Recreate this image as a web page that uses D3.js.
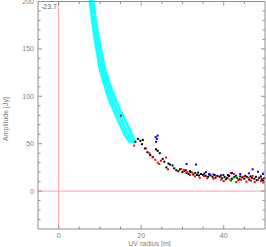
<!DOCTYPE html>
<html>
<head>
<meta charset="utf-8">
<script src="https://cdn.jsdelivr.net/npm/d3@7"></script>
<style>
    body { margin: 0; background: #fff; }
    svg { display: block; font-family: "Liberation Sans", Arial, sans-serif; }
    .tickLabel { font-size: 7px; fill: #808080; }
    .axisTitle { font-size: 7px; fill: #808080; }
    .frame line, .tick { stroke: #909090; stroke-width: 1; }
</style>
</head>
<body>
<div class="chart"></div>
<script>
// ----- DATA -------------------------------------------------------
// cyan band: amplitude levels and the uv radii read at each level
const cyanLevels = [200, 197.5, 195, 192.5, 190, 187.5, 185, 182.5, 180, 177.5, 175, 172.5, 170, 167.5,
    165, 162.5, 160, 157.5, 155, 152.5, 150, 147.5, 145, 142.5, 140, 137.5, 135, 132.5, 130, 127.5,
    125, 122.5, 120, 117.5, 115, 112.5, 110, 107.5, 105, 102.5, 100, 97.5, 95, 92.5, 90, 87.5,
    85, 82.5, 80, 77.5, 75, 72.5, 70, 67.5, 65, 62.5, 60, 57.5, 55, 52.5];
const cyanU = [
    [7.65, 7.95, 8.25], [7.7, 8.05, 8.4], [7.8, 8.1, 8.45], [7.85, 8.2, 8.55], [7.9, 8.3, 8.65],
    [8.0, 8.35, 8.7], [8.05, 8.4, 8.8], [8.1, 8.5, 8.85], [8.2, 8.55, 8.95], [8.25, 8.65, 9.0],
    [8.35, 8.7, 9.1], [8.4, 8.8, 9.2], [8.5, 8.9, 9.3], [8.55, 8.95, 9.4], [8.65, 9.05, 9.5],
    [8.7, 9.15, 9.6], [8.8, 9.25, 9.7], [8.9, 9.35, 9.8], [9.0, 9.45, 9.95], [9.1, 9.55, 10.05],
    [9.2, 9.7, 10.2], [9.3, 9.8, 10.3], [9.4, 9.9, 10.4], [9.5, 10.0, 10.5], [9.6, 10.1, 10.6],
    [9.7, 10.2, 10.75], [9.8, 10.35, 10.85], [9.9, 10.45, 11.0], [10.0, 10.55, 11.1], [10.15, 10.7, 11.25],
    [10.3, 10.85, 11.4], [10.45, 11.0, 11.6], [10.6, 11.2, 11.8], [10.75, 11.35, 12.0], [10.9, 11.55, 12.2],
    [11.1, 11.7, 12.4], [11.3, 11.95, 12.6], [11.45, 12.1, 12.8], [11.6, 12.3, 13.0], [11.8, 12.5, 13.25],
    [12.0, 12.75, 13.5], [12.2, 12.95, 13.7], [12.4, 13.15, 13.9], [12.65, 13.4, 14.15], [12.9, 13.65, 14.4],
    [13.15, 13.9, 14.65], [13.4, 14.15, 14.9], [13.65, 14.45, 15.2], [13.9, 14.7, 15.5], [14.15, 14.95, 15.8],
    [14.4, 15.25, 16.1], [14.65, 15.5, 16.35], [14.9, 15.75, 16.6], [15.2, 16.05, 16.9], [15.5, 16.35, 17.2],
    [15.75, 16.6, 17.45], [16.0, 16.85, 17.7], [16.35, 17.15, 17.95], [16.7, 17.45, 18.2], [17.2, 17.8, 18.35]
];

// [uv radius, amplitude]
const blackPts = [[18.6,52],[19.2,55],[19.8,53],[20.4,54],[20.2,49.5],[20.9,45],[21.5,41],[22.2,38],[22.8,36],
    [23.6,44],[24.0,42.5],[24.5,40],[25.2,34],[25.6,31],[26.1,25],[26.6,29],[27.0,28],[27.6,27],[28.0,24],
    [28.5,22],[29.0,21],[29.4,23],[30.0,20],[30.5,21.5],[30.8,22],[31.0,19],[31.5,18],[31.8,21],[32.0,20],
    [32.6,17.5],[33.1,19],[33.5,17],[33.8,19.5],[34.0,16.5],[34.5,18],[35.0,17],[35.3,18.5],[35.6,16],
    [36.2,15],[36.5,17.5],[36.8,16.5],[37.3,15],[37.8,17],[38.0,14],[38.5,16],[39.0,15],[39.3,16.5],
    [39.6,13.5],[40.2,15],[40.5,12.5],[40.8,14],[41.0,17],[41.3,16],[42.0,13],[42.6,15],[43.0,16],[43.2,14],
    [43.8,12.5],[44.0,15.5],[44.5,14.5],[45.0,13],[45.2,16],[45.6,15],[46.2,12],[46.5,15.5],[46.8,14],
    [47.4,13],[47.8,15],[48.0,11.5],[48.6,14],[49.0,15.5],[49.2,12.5],[49.5,11],[49.8,13.5]];
const redPts = [[15.1,79.5],[18.3,48],[21.2,45],[22.0,40],[22.8,35.5],[23.4,33],[24.0,30],[24.4,28.5],
    [24.8,32],[26.0,35.5],[26.5,23],[29.7,23.3],[30.3,22],[31.2,20],[31.8,17],[32.4,19.5],[33.0,15.5],
    [34.2,14],[35.2,16],[36.0,13.5],[37.5,13],[38.2,16],[39.4,12],[40.0,10.5],[41.0,13.5],[41.7,19],
    [41.8,11],[42.5,18],[43.0,9.5],[43.5,11.5],[44.2,12],[44.8,15],[45.5,10],[46.0,14],[46.6,11],
    [47.0,16],[47.5,9.5],[48.3,12],[49.0,10.5],[49.6,9]];
const bluePts = [[23.5,57],[23.8,55],[24.0,58.5],[23.6,52],[31.0,28.5],[33.3,28],[35.7,20],[36.5,18],
    [37.5,17.5],[39.9,17],[42.0,19],[44.0,18],[46.1,18.7],[47.0,23],[48.3,20.4],[49.5,18]];
const greenPts = [[41.5,12],[42.3,14],[43.0,14.5]];

const xMajor = [0, 20, 40];
const yMajor = [0, 50, 100, 150, 200];
const phaseLabel = "-23.7";

// ----- CHART ------------------------------------------------------
const width = 266, height = 247;
const margin = { top: 1.5, right: 1, bottom: 18, left: 38 };

let svg = d3.select(".chart").append("svg")
    .attr("width", width)
    .attr("height", height);

let x = d3.scaleLinear().domain([-5, 50]).range([margin.left, width - margin.right]);
let y = d3.scaleLinear().domain([-40, 200]).range([height - margin.bottom, margin.top]);

let plot = svg.append("g");

// zero lines
plot.append("line")
    .attr("x1", x(0)).attr("x2", x(0))
    .attr("y1", y(-40)).attr("y2", y(200))
    .attr("stroke", "#ffa4a4").attr("stroke-width", 1);
plot.append("line")
    .attr("x1", x(-5)).attr("x2", x(50))
    .attr("y1", y(0)).attr("y2", y(0))
    .attr("stroke", "#ffa4a4").attr("stroke-width", 1);

// cyan band
let cyanPts = [];
cyanLevels.forEach((a, i) => cyanU[i].forEach(u => cyanPts.push([u, a])));

function drawPoints( pts, colour, size )
{
    plot.append("g").selectAll("rect")
        .data(pts)
        .enter()
            .append("rect")
            .attr("x", d => x(d[0]) - size / 2)
            .attr("y", d => y(d[1]) - size / 2)
            .attr("width", size)
            .attr("height", size)
            .attr("fill", colour);
}

drawPoints(cyanPts, "#1affff", 3);
drawPoints(blackPts, "#000000", 2);
drawPoints(redPts, "#ff0000", 2);
drawPoints(bluePts, "#0000ff", 2);
drawPoints(greenPts, "#00cc00", 2);

// frame
let frame = svg.append("g").classed("frame", true);
const x0 = x(-5), x1 = x(50), y0 = y(-40), y1 = y(200);
frame.append("line").attr("x1", x0).attr("x2", x1).attr("y1", y0).attr("y2", y0);
frame.append("line").attr("x1", x0).attr("x2", x1).attr("y1", y1).attr("y2", y1);
frame.append("line").attr("x1", x0).attr("x2", x0).attr("y1", y0).attr("y2", y1);
frame.append("line").attr("x1", x1).attr("x2", x1).attr("y1", y0).attr("y2", y1);

// inward ticks
d3.range(0, 50, 5).forEach(v => {
    const len = xMajor.includes(v) ? 4 : 2.5;
    frame.append("line").classed("tick", true)
        .attr("x1", x(v)).attr("x2", x(v)).attr("y1", y0).attr("y2", y0 - len);
    frame.append("line").classed("tick", true)
        .attr("x1", x(v)).attr("x2", x(v)).attr("y1", y1).attr("y2", y1 + len);
});
d3.range(-30, 200, 10).forEach(v => {
    const len = yMajor.includes(v) ? 4 : 2.5;
    frame.append("line").classed("tick", true)
        .attr("x1", x0).attr("x2", x0 + len).attr("y1", y(v)).attr("y2", y(v));
    frame.append("line").classed("tick", true)
        .attr("x1", x1).attr("x2", x1 - len).attr("y1", y(v)).attr("y2", y(v));
});

// tick labels
svg.append("g").selectAll("text")
    .data(xMajor)
    .enter()
        .append("text")
        .classed("tickLabel", true)
        .attr("x", d => x(d))
        .attr("y", y0 + 8.5)
        .attr("text-anchor", "middle")
        .text(d => d);

svg.append("g").selectAll("text")
    .data(yMajor)
    .enter()
        .append("text")
        .classed("tickLabel", true)
        .attr("x", x0 - 4)
        .attr("y", d => y(d) + 2.5)
        .attr("text-anchor", "end")
        .text(d => d);

// axis titles
svg.append("text")
    .classed("axisTitle", true)
    .attr("x", 149.5)
    .attr("y", 245.5)
    .attr("text-anchor", "middle")
    .text("UV radius [m]");

svg.append("text")
    .classed("axisTitle", true)
    .attr("transform", "translate(7.5,119) rotate(-90)")
    .attr("text-anchor", "middle")
    .text("Amplitude [Jy]");

// phase label
svg.append("text")
    .attr("x", x0 + 3)
    .attr("y", y1 + 7)
    .attr("font-size", "7px")
    .attr("fill", "#606060")
    .text(phaseLabel);
</script>
</body>
</html>
